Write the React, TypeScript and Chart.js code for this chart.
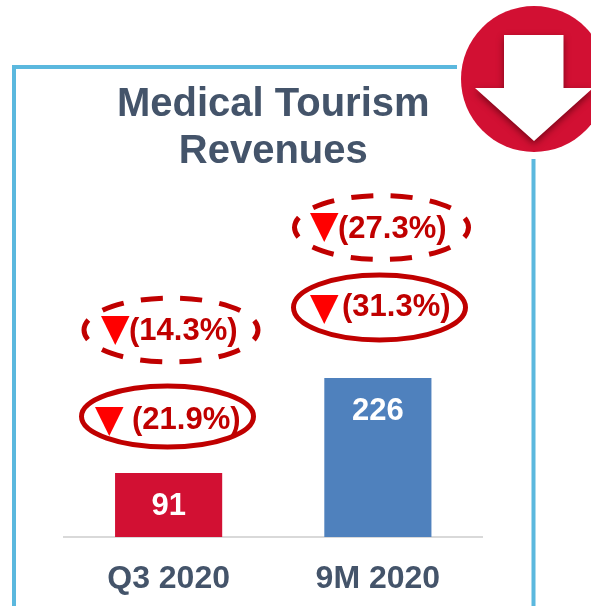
import React, { useEffect, useRef } from "react";
import { Chart, registerables } from "chart.js";

Chart.register(...registerables);

const titleLines = ["Medical Tourism", "Revenues"];
const categories = ["Q3 2020", "9M 2020"];
const revenues = [91, 226];
const barColors = ["#D21033", "#4F81BD"];
const dashedChanges = ["(14.3%)", "(27.3%)"];
const solidChanges = ["(21.9%)", "(31.3%)"];

const FONT = '"Liberation Sans", Arial, sans-serif';
const SLATE = "#44546A";
const DARK_RED = "#C00000";

// cx, cy, rx, ry, triangle left, triangle top, text left, text centre y
const dashedLayout = [
  [171, 330, 87, 32, 101, 316, 129, 331.5],
  [381.5, 227.5, 87, 32, 310, 213, 338, 229],
];
const solidLayout = [
  [167.5, 416.5, 86, 30.5, 95, 407, 132, 420.5],
  [379.5, 307.5, 86, 32.5, 310, 295, 342, 307.5],
];

const decorations = {
  id: "decorations",
  beforeDraw(chart: any) {
    const c = chart.ctx;
    c.save();
    c.strokeStyle = "#5BB8DE";
    c.lineWidth = 4;
    c.beginPath();
    c.moveTo(457, 67);
    c.lineTo(14, 67);
    c.lineTo(14, 606);
    c.moveTo(533.5, 159);
    c.lineTo(533.5, 606);
    c.stroke();
    c.fillStyle = "#D21033";
    c.beginPath();
    c.arc(534, 79, 73, 0, Math.PI * 2);
    c.fill();
    c.save();
    c.shadowColor = "rgba(70,0,10,0.65)";
    c.shadowBlur = 7;
    c.shadowOffsetY = 3;
    c.fillStyle = "#FFFFFF";
    c.beginPath();
    c.moveTo(504, 35);
    c.lineTo(563.5, 35);
    c.lineTo(563.5, 88);
    c.lineTo(593, 88);
    c.lineTo(534, 141);
    c.lineTo(475, 88);
    c.lineTo(504, 88);
    c.closePath();
    c.fill();
    c.restore();
    c.restore();
  },
  afterDraw(chart: any) {
    const c = chart.ctx;
    c.save();
    const meta = chart.getDatasetMeta(0);
    c.font = `bold 31px ${FONT}`;
    c.textAlign = "center";
    c.textBaseline = "middle";
    c.fillStyle = "#FFFFFF";
    revenues.forEach((v, i) => {
      const el = meta.data[i];
      c.fillText(String(v), el.x, el.y + 33);
    });
    const drawCallout = (label: string, l: number[], dashed: boolean) => {
      const [cx, cy, rx, ry, tx, ty, lx, ly] = l;
      c.strokeStyle = DARK_RED;
      c.lineWidth = 5;
      if (dashed) {
        const h = ((rx - ry) / (rx + ry)) ** 2;
        const perim = Math.PI * (rx + ry) * (1 + (3 * h) / (10 + Math.sqrt(4 - 3 * h)));
        const period = perim / 10;
        c.setLineDash([22, period - 22]);
        c.lineDashOffset = 11;
      } else {
        c.setLineDash([]);
      }
      c.beginPath();
      c.ellipse(cx, cy, rx, ry, 0, 0, Math.PI * 2);
      c.stroke();
      c.setLineDash([]);
      c.fillStyle = "#FF0000";
      c.beginPath();
      c.moveTo(tx, ty);
      c.lineTo(tx + 28.5, ty);
      c.lineTo(tx + 14.25, ty + 29);
      c.closePath();
      c.fill();
      c.fillStyle = DARK_RED;
      c.textAlign = "left";
      c.font = `bold 31px ${FONT}`;
      c.fillText(label, lx, ly);
    };
    dashedChanges.forEach((t, i) => drawCallout(t, dashedLayout[i], true));
    solidChanges.forEach((t, i) => drawCallout(t, solidLayout[i], false));
    c.restore();
  },
};

export default function App() {
  const ref = useRef<HTMLCanvasElement>(null);
  useEffect(() => {
    if (!ref.current) return;
    const chart = new Chart(ref.current, {
      type: "bar",
      data: {
        labels: categories,
        datasets: [
          {
            data: revenues,
            backgroundColor: barColors,
            barPercentage: 0.512,
            categoryPercentage: 1,
          },
        ],
      },
      options: {
        animation: false,
        responsive: false,
        layout: { padding: { top: 81, left: 64, right: 108.5, bottom: 0 } },
        plugins: {
          legend: { display: false },
          tooltip: { enabled: false },
          title: {
            display: true,
            text: titleLines,
            color: SLATE,
            padding: 0,
            font: { family: FONT, size: 40, weight: "bold", lineHeight: 1.175 },
          },
        },
        scales: {
          x: {
            grid: { display: false },
            border: { color: "#D9D9D9", width: 2 },
            afterFit(scale: any) {
              scale.height = 69;
            },
            ticks: {
              color: SLATE,
              padding: 15,
              maxRotation: 0,
              font: { family: FONT, size: 32, weight: "bold" },
            },
          },
          y: { display: false, min: 0, max: 514.6 },
        },
      },
      plugins: [decorations],
    } as any);
    return () => chart.destroy();
  }, []);
  return (
    <div style={{ position: "fixed", left: 0, top: 0, width: 591, height: 606, overflow: "hidden", background: "#fff" }}>
      <canvas ref={ref} width={591} height={606} style={{ display: "block" }} />
    </div>
  );
}
